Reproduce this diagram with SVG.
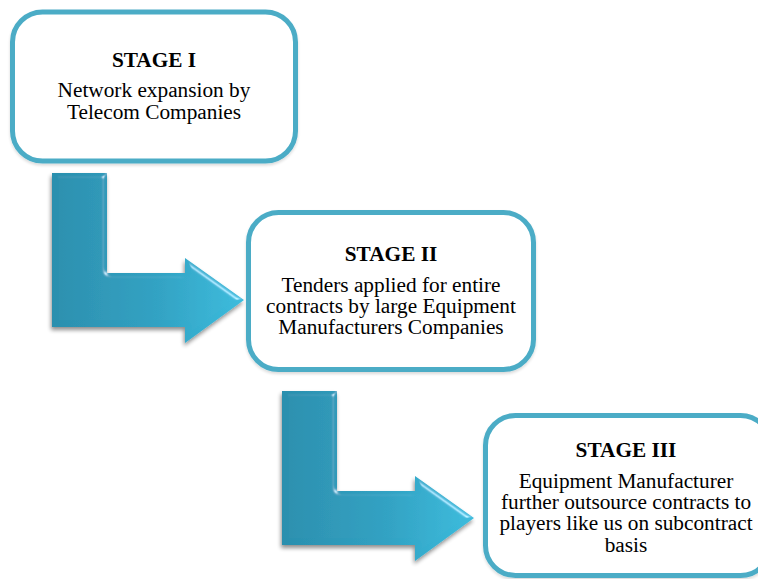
<svg xmlns="http://www.w3.org/2000/svg" width="758" height="579" viewBox="0 0 758 579">
<defs>
<style>
.box{fill:#ffffff;stroke:#4BACC6;stroke-width:5;filter:url(#bshadow)}
.t{font-family:"Liberation Serif","Times New Roman",serif;font-size:21.3px;fill:#000;text-anchor:middle}
.h{font-weight:bold}
.arrow{fill:url(#ag);filter:url(#bevel)}
</style>
<linearGradient id="ag" x1="0" y1="0" x2="1" y2="0">
<stop offset="0" stop-color="#2B8FAE"/>
<stop offset="0.55" stop-color="#31A2C3"/>
<stop offset="1" stop-color="#3CBCDD"/>
</linearGradient>
<filter id="bshadow" x="-5%" y="-5%" width="110%" height="115%">
<feGaussianBlur in="SourceAlpha" stdDeviation="1.5"/>
<feOffset dx="0" dy="2" result="o"/>
<feComponentTransfer in="o" result="s"><feFuncA type="linear" slope="0.15"/></feComponentTransfer>
<feMerge><feMergeNode in="s"/><feMergeNode in="SourceGraphic"/></feMerge>
</filter>
<filter id="bevel" x="-15%" y="-15%" width="130%" height="130%">
<feGaussianBlur in="SourceAlpha" stdDeviation="2.5" result="blur"/>
<feSpecularLighting in="blur" surfaceScale="4" specularConstant="0.8" specularExponent="40" lighting-color="#ffffff" result="spec">
<feDistantLight azimuth="-40" elevation="30"/>
</feSpecularLighting>
<feComposite in="spec" in2="SourceAlpha" operator="in" result="specIn"/>
<feComposite in="SourceGraphic" in2="specIn" operator="arithmetic" k1="0" k2="1" k3="0.6" k4="0" result="lit"/>
<feGaussianBlur in="SourceAlpha" stdDeviation="2" result="sb"/>
<feOffset in="sb" dx="-1" dy="3" result="so"/>
<feComponentTransfer in="so" result="sh"><feFuncA type="linear" slope="0.45"/></feComponentTransfer>
<feMerge><feMergeNode in="sh"/><feMergeNode in="lit"/></feMerge>
</filter>
</defs>

<g id="connectors">
<polygon id="arrow1" class="arrow" points="52,173 107,173 107,273 185,273 185,258 244,300 185,343 185,327 52,327"/>
<polygon id="arrow2" class="arrow" points="282,391 337,391 337,491 415,491 415,476 474,518 415,561 415,545 282,545"/>
</g>

<g id="stage1">
<rect class="box" x="12.5" y="12" width="283" height="149" rx="30" ry="30"/>
<text class="t h" x="154" y="67">STAGE I</text>
<text class="t" x="154" y="97">Network expansion by</text>
<text class="t" x="154" y="119">Telecom Companies</text>
</g>

<g id="stage2">
<rect class="box" x="248.5" y="212.5" width="285" height="157" rx="30" ry="30"/>
<text class="t h" x="391" y="261">STAGE II</text>
<text class="t" x="391" y="292">Tenders applied for entire</text>
<text class="t" x="391" y="313">contracts by large Equipment</text>
<text class="t" x="391" y="334">Manufacturers Companies</text>
</g>

<g id="stage3">
<rect class="box" x="485.5" y="415.5" width="285" height="160" rx="30" ry="30"/>
<text class="t h" x="626" y="457">STAGE III</text>
<text class="t" x="626" y="488">Equipment Manufacturer</text>
<text class="t" x="626" y="509">further outsource contracts to</text>
<text class="t" x="626" y="530">players like us on subcontract</text>
<text class="t" x="626" y="552">basis</text>
</g>
</svg>
